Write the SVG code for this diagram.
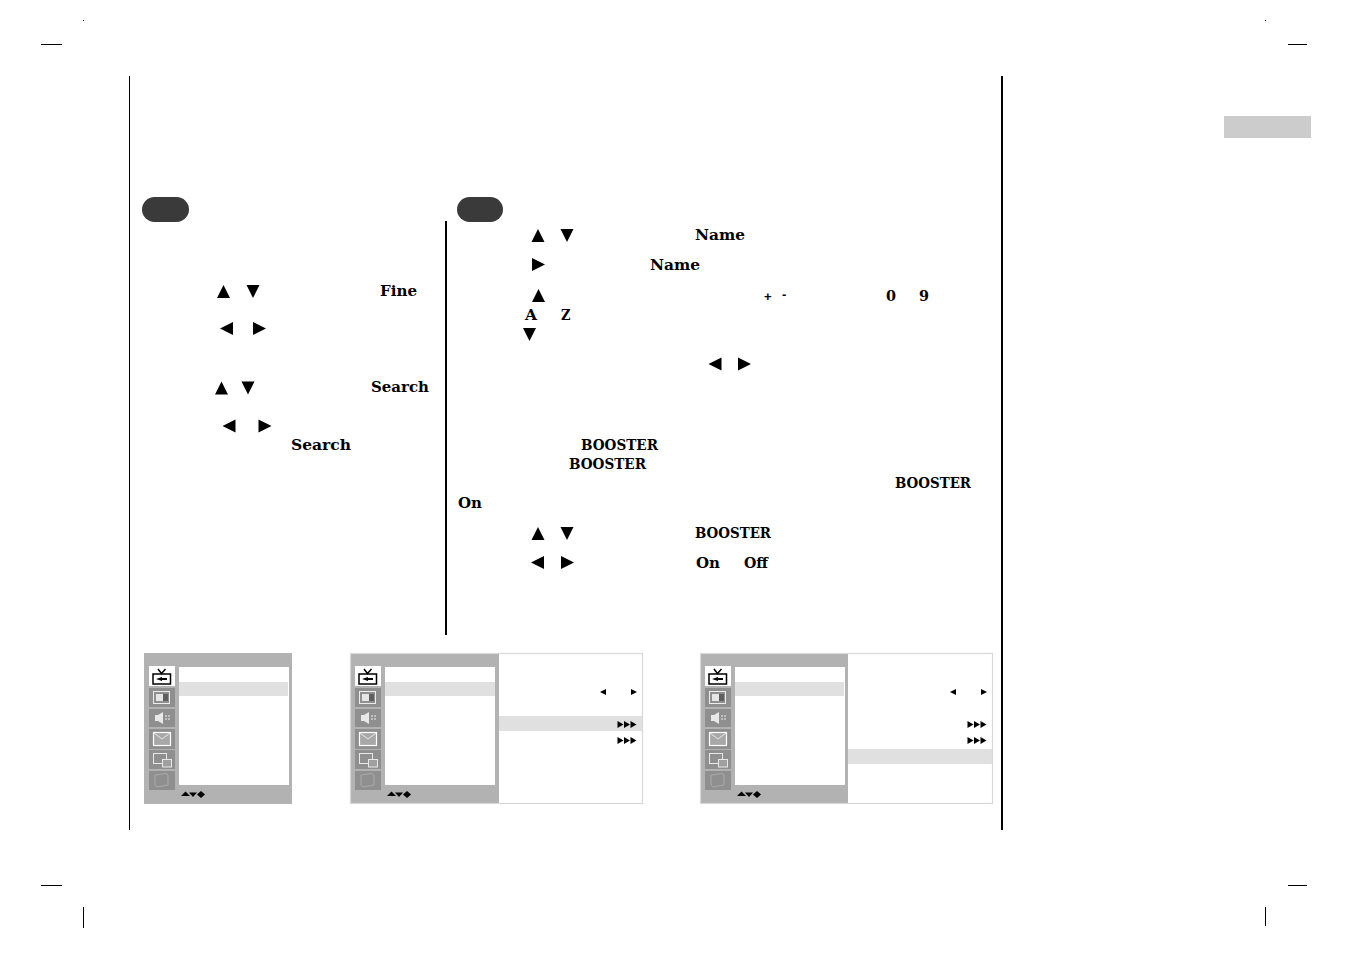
<svg xmlns="http://www.w3.org/2000/svg" xmlns:xlink="http://www.w3.org/1999/xlink" width="1351" height="954" viewBox="0 0 1351 954">
<style>
.b{font-family:"DejaVu Serif","Liberation Serif",serif;font-weight:bold;font-size:15px;fill:#000}
.s{font-family:"Liberation Sans",sans-serif;font-weight:bold;font-size:13px;fill:#000}
.k{fill:#000;stroke:none}
.g{fill:#b2b2b2}
.t{fill:#8f8f8f}
.w{fill:#fff}
.h{fill:#e0e0e0}
.o{fill:none;stroke:#d8d8d8;stroke-width:1.2}
.p{fill:#3a3a3a}
</style>
<defs>
<path id="u" d="M0 13L6.5 0L13 13Z"/>
<path id="d" d="M0 0L13 0L6.5 13Z"/>
<path id="l" d="M13 0L13 13L0 6.5Z"/>
<path id="r" d="M0 0L13 6.5L0 13Z"/>
<g id="tri"><path d="M0 0L6 3.5L0 7Z"/><path d="M6.500 0L12.500 3.500L6.500 7Z"/><path d="M13 0L19 3.500L13 7Z"/></g>
<g id="nav"><path d="M0 4.500L4.500 0L9 4.500Z" transform="translate(0 -.5)"/><path d="M9 0.500L17 0.500L13 5Z" transform="translate(-1 0)"/><path d="M4 0L4 7L0 3.500Z" transform="translate(16 -1)"/><path d="M0 0L4 3.500L0 7Z" transform="translate(20 -1)"/></g>
<g id="tabs">
<rect class="w" x="0" y="13" width="26" height="20"/>
<rect class="t" x="0" y="35" width="26" height="19"/>
<rect class="t" x="0" y="56" width="26" height="18"/>
<rect class="t" x="0" y="76" width="26" height="20"/>
<rect class="t" x="0" y="97" width="26" height="19"/>
<rect class="t" x="0" y="118" width="26" height="19"/>
<g fill="none" stroke="#000" stroke-width="1.500"><rect x="4" y="21" width="17.500" height="10"/><path d="M9 16L12.500 20.500L16.500 16"/></g>
<path class="k" d="M7 26L13 24L13 25L18 25L18 27L13 27L13 28Z"/>
<g fill="none" stroke="#ececec" stroke-width="1"><rect x="4.500" y="38.500" width="16" height="12"/></g>
<rect x="7" y="41" width="7" height="7" fill="#e6e6e6"/><rect x="14" y="41" width="5" height="7" fill="#5f5f5f"/>
<path fill="#e8e8e8" d="M6 62L9 62L14 59L14 71L9 68L6 68Z"/><path d="M17 62V68M20 62V68" stroke="#d0d0d0" stroke-width="1.500" stroke-dasharray="2 1"/>
<rect x="4.500" y="79.500" width="17" height="13" fill="#a8a8a8" stroke="#fff" stroke-width="1.200"/><path d="M5 80L13 86L21 80" fill="none" stroke="#e8e8e8"/>
<rect x="4.500" y="100.500" width="13" height="10" fill="none" stroke="#e8e8e8"/><rect x="13.500" y="106.500" width="9" height="7.500" fill="#a0a0a0" stroke="#e8e8e8"/>
<path d="M6 122L17 120.500L19 122L19 132L8 134L6 132Z" fill="none" stroke="#ababab"/>
</g>
</defs>
<g id="page-marks">
<rect class="k" x="41" y="44" width="21" height="1"/>
<rect class="k" x="1288" y="44" width="19" height="1"/>
<rect class="k" x="41" y="885" width="21" height="1"/>
<rect class="k" x="1288" y="885" width="19" height="1"/>
<rect class="k" x="83" y="907" width="1" height="21"/>
<rect class="k" x="1265" y="907" width="1" height="19"/>
<rect class="k" x="83" y="20" width="1" height="1"/>
<rect class="k" x="1265" y="20" width="1" height="1"/>
<rect class="k" x="129" y="76" width="1" height="754"/>
<rect class="k" x="1001" y="76" width="2" height="754"/>
<rect class="k" x="445" y="221" width="2" height="414"/>
<rect x="1224" y="116" width="87" height="22" fill="#cccccc"/>
</g>
<g id="pill-left"><rect class="p" x="142" y="197" width="47" height="25" rx="12.500"/></g>
<g id="pill-right"><rect class="p" x="457" y="197" width="46" height="25" rx="12.500"/></g>
<g id="text-left">
<use class="k" href="#u" x="217" y="285"/><use class="k" href="#d" x="246.500" y="285"/>
<text class="b" x="380" y="296" textLength="37" lengthAdjust="spacingAndGlyphs">Fine</text>
<use class="k" href="#l" x="220" y="322"/><use class="k" href="#r" x="253" y="322"/>
<use class="k" href="#u" x="215" y="381.500"/><use class="k" href="#d" x="241.500" y="381.500"/>
<text class="b" x="371" y="392" textLength="58" lengthAdjust="spacingAndGlyphs">Search</text>
<use class="k" href="#l" x="222.500" y="419.500"/><use class="k" href="#r" x="258.500" y="419.500"/>
<text class="b" x="291" y="450" textLength="60" lengthAdjust="spacingAndGlyphs">Search</text>
</g>
<g id="text-right">
<use class="k" href="#u" x="531.500" y="229"/><use class="k" href="#d" x="560.500" y="229"/>
<text class="b" x="695" y="240" textLength="50" lengthAdjust="spacingAndGlyphs">Name</text>
<use class="k" href="#r" x="532" y="258"/>
<text class="b" x="650" y="270" textLength="50" lengthAdjust="spacingAndGlyphs">Name</text>
<use class="k" href="#u" x="532" y="289"/>
<text class="s" x="764" y="301">+</text><text class="s" x="782" y="299">-</text>
<text class="b" x="886" y="301" textLength="10" lengthAdjust="spacingAndGlyphs">0</text>
<text class="b" x="919" y="301" textLength="10" lengthAdjust="spacingAndGlyphs">9</text>
<text class="b" x="525" y="320" textLength="12" lengthAdjust="spacingAndGlyphs">A</text>
<text class="b" x="561" y="320" textLength="9.500" lengthAdjust="spacingAndGlyphs">Z</text>
<use class="k" href="#d" x="523" y="328"/>
<use class="k" href="#l" x="708.500" y="357.500"/><use class="k" href="#r" x="738" y="357.500"/>
<text class="b" x="581" y="450" textLength="77" lengthAdjust="spacingAndGlyphs">BOOSTER</text>
<text class="b" x="569" y="469" textLength="77" lengthAdjust="spacingAndGlyphs">BOOSTER</text>
<text class="b" x="895" y="488" textLength="76" lengthAdjust="spacingAndGlyphs">BOOSTER</text>
<text class="b" x="458" y="508" textLength="24" lengthAdjust="spacingAndGlyphs">On</text>
<use class="k" href="#u" x="531.500" y="527"/><use class="k" href="#d" x="560.500" y="527"/>
<text class="b" x="695" y="538" textLength="76" lengthAdjust="spacingAndGlyphs">BOOSTER</text>
<use class="k" href="#l" x="531" y="556"/><use class="k" href="#r" x="561" y="556"/>
<text class="b" x="696" y="568" textLength="24" lengthAdjust="spacingAndGlyphs">On</text>
<text class="b" x="744" y="568" textLength="24" lengthAdjust="spacingAndGlyphs">Off</text>
</g>
<g id="menu-1">
<rect class="g" x="144" y="653" width="148" height="151"/>
<use href="#tabs" x="149" y="653"/>
<rect class="w" x="179" y="667" width="110" height="118"/>
<rect class="h" x="179" y="682" width="109" height="14"/>
<use class="k" href="#nav" x="181" y="792"/>
</g>
<g id="menu-2">
<rect class="w" x="350.500" y="653.500" width="292" height="150"/>
<rect class="g" x="350" y="653" width="149" height="151"/>
<rect class="o" x="350.500" y="653.500" width="292" height="150"/>
<use href="#tabs" x="355" y="653"/>
<rect class="w" x="385" y="667" width="110" height="118"/>
<rect class="h" x="385" y="682" width="110" height="14"/>
<rect class="h" x="499" y="716" width="143" height="15"/>
<path class="k" d="M606 689V695L600 692Z"/><path class="k" d="M631 689L637 692L631 695Z"/>
<use class="k" href="#tri" x="617.500" y="721"/><use class="k" href="#tri" x="617.500" y="737"/>
<use class="k" href="#nav" x="387" y="792"/>
</g>
<g id="menu-3">
<rect class="w" x="700.500" y="653.500" width="292" height="150"/>
<rect class="g" x="700" y="653" width="148" height="151"/>
<rect class="o" x="700.500" y="653.500" width="292" height="150"/>
<use href="#tabs" x="705" y="653"/>
<rect class="w" x="735" y="667" width="110" height="118"/>
<rect class="h" x="735" y="682" width="109" height="14"/>
<rect class="h" x="848" y="749" width="144" height="15"/>
<path class="k" d="M956 689V695L950 692Z"/><path class="k" d="M981 689L987 692L981 695Z"/>
<use class="k" href="#tri" x="967.500" y="721"/><use class="k" href="#tri" x="967.500" y="737"/>
<use class="k" href="#nav" x="737" y="792"/>
</g>
<g id="connectors"></g>
</svg>
